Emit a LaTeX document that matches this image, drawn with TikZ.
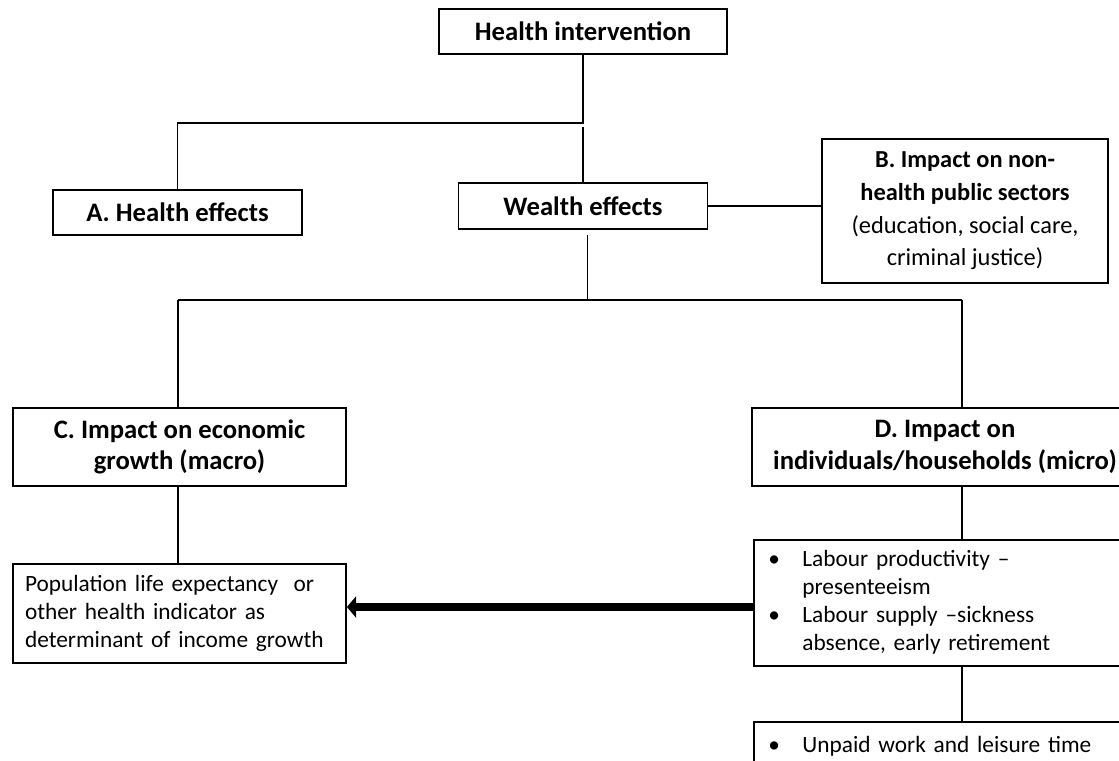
\documentclass[tikz,border=0pt]{standalone}
\usepackage{fontspec}
\setmainfont{Carlito}
\usetikzlibrary{arrows.meta}

\tikzset{
  box/.style={draw, line width=1.3pt, inner sep=0pt, align=center,
    font=\bfseries\fontsize{20}{23.5}\selectfont},
  txtbox/.style={draw, line width=1.3pt, inner ysep=0pt, align=left,
    font=\fontsize{17.5}{21}\selectfont},
  conn/.style={line width=1pt},
  bigarrow/.style={line width=6pt, -{Triangle[length=7pt,width=16pt]}}
}

\begin{document}
\begin{tikzpicture}[x=0.75pt,y=-0.75pt]
\useasboundingbox (0,0) rectangle (1119,760);

% boxes
\node[box, minimum width=216pt, minimum height=33.75pt] (hi) at (583,31.5) {Health intervention};
\node[box, minimum width=186.75pt, minimum height=33.75pt] (he) at (177.5,212.5) {A. Health effects};
\node[box, minimum width=186.75pt, minimum height=34.5pt] (we) at (583,206) {Wealth effects};
\node[box, minimum width=214.5pt, minimum height=108pt, font=\fontsize{18.3}{24.5}\selectfont] (nb) at (965,211)
  {\textbf{B. Impact on non-}\\\textbf{health public sectors}\\(education, social care,\\criminal justice)};
\node[box, minimum width=249.75pt, minimum height=58.5pt] (c) at (179.5,447) {C. Impact on economic\\growth (macro)};
\node[box, minimum width=289.5pt, minimum height=58.5pt] (d) at (945,447) {D. Impact on\\individuals/households (micro)};

\node[txtbox, inner xsep=9pt, text width=231.75pt, minimum height=74.25pt] (pop) at (179.5,613.5)
  {Population life expectancy\ \ or\\other health indicator as\\determinant of income growth};
\node[txtbox, inner xsep=11pt, text width=258.25pt, minimum height=94.5pt] (lab) at (940.5,603)
  {\begin{tabular}{@{}p{25.5pt}@{}l@{}}
   \textbullet & Labour productivity --\\
               & presenteeism\\
   \textbullet & Labour supply --sickness\\
               & absence, early retirement
   \end{tabular}};
\node[txtbox, inner xsep=11pt, text width=258.25pt, anchor=north, minimum height=59pt] (un) at (940.5,721)
  {\begin{tabular}{@{}p{25.5pt}@{}l@{}}
   \textbullet & Unpaid work and leisure time\\
               & \\
   \end{tabular}};

% connectors
\coordinate (j1) at (583,123);
\coordinate (j2) at (583,127);
\coordinate (j3) at (587.5,235);
\coordinate (j4) at (587.5,300);
\coordinate (jc) at (178,300);
\coordinate (jd) at (962,300);
\coordinate (ar) at (755,607);

\draw[conn] (hi.south) -- (j1) -| (he.north);
\draw[conn] (j2) -- (we.north);
\draw[conn] (we.east) -- (nb.west |- we.east);
\draw[conn] (j3) -- (j4);
\draw[conn] (jc) -- (jd);
\draw[conn] (jc) -- (jc |- c.north);
\draw[conn] (jd) -- (jd |- d.north);
\draw[conn] (jc |- c.south) -- (jc |- pop.north);
\draw[conn] (jd |- d.south) -- (jd |- lab.north);
\draw[conn] (jd |- lab.south) -- (jd |- un.north);

\draw[bigarrow] (lab.west |- ar) -- (pop.east |- ar);
\end{tikzpicture}
\end{document}
